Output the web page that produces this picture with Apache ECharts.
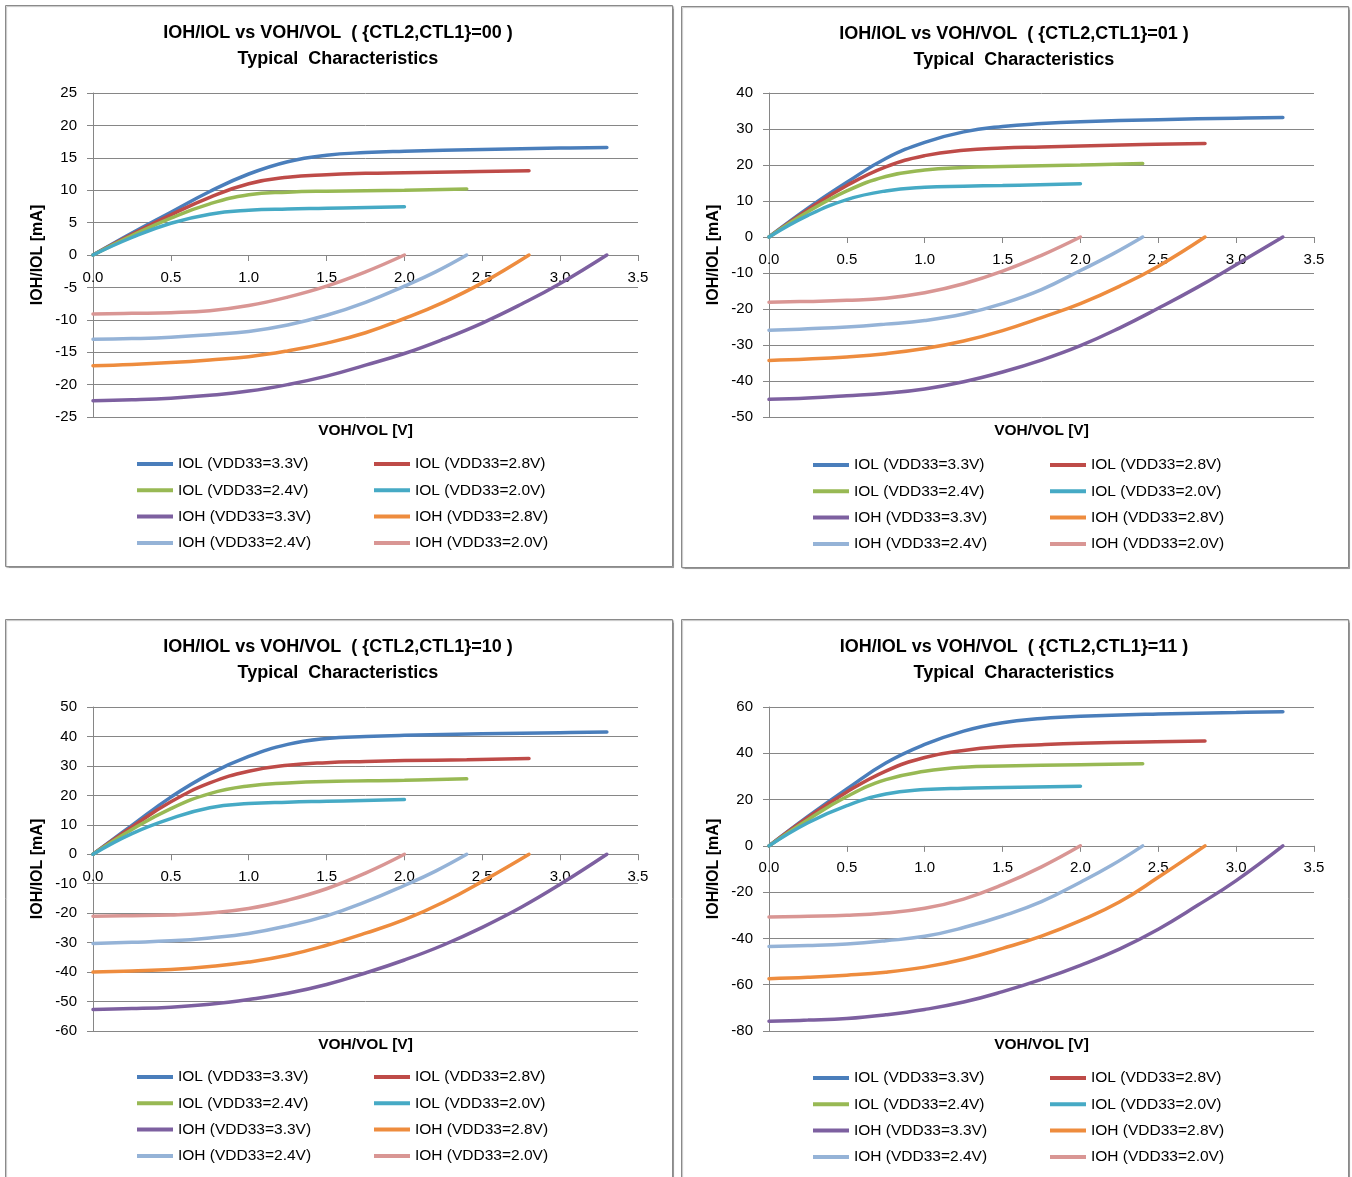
<!DOCTYPE html>
<html><head><meta charset="utf-8">
<script src="https://cdn.jsdelivr.net/npm/echarts@6/dist/echarts.min.js"></script>
<style>html,body{margin:0;padding:0;background:#fff}#c{width:1352px;height:1177px}</style>
</head><body><div id="c"></div>
<script>
// ---- voltage sample points (V) ----
const X_IOL_33 = [0, 0.25, 0.5, 0.75, 1.0, 1.25, 1.5, 1.75, 2.0, 2.5, 3.0, 3.3];
const X_IOL_28 = [0, 0.25, 0.5, 0.75, 1.0, 1.25, 1.5, 1.75, 2.0, 2.4, 2.8];
const X_IOL_24 = [0, 0.25, 0.5, 0.75, 1.0, 1.25, 1.5, 2.0, 2.4];
const X_IOL_20 = [0, 0.25, 0.5, 0.75, 1.0, 1.25, 1.5, 2.0];
const X_IOH_33 = [0, 0.25, 0.5, 0.75, 1.0, 1.25, 1.5, 1.75, 2.0, 2.25, 2.5, 2.75, 3.0, 3.3];
const X_IOH_28 = [0, 0.25, 0.5, 0.75, 1.0, 1.25, 1.5, 1.75, 2.0, 2.25, 2.5, 2.8];
const X_IOH_24 = [0, 0.25, 0.5, 0.75, 1.0, 1.25, 1.5, 1.75, 2.0, 2.2, 2.4];
const X_IOH_20 = [0, 0.25, 0.5, 0.75, 1.0, 1.25, 1.5, 1.75, 2.0];

// ---- {CTL2,CTL1}=00 currents (mA) ----
const P00_IOL_33 = [0, 3.4, 6.6, 9.8, 12.5, 14.4, 15.4, 15.8, 16.0, 16.3, 16.5, 16.6];
const P00_IOL_28 = [0, 3.2, 6.2, 8.9, 11.0, 12.0, 12.4, 12.6, 12.7, 12.85, 13.0];
const P00_IOL_24 = [0, 3.0, 5.7, 7.9, 9.3, 9.7, 9.85, 10.0, 10.2];
const P00_IOL_20 = [0, 2.7, 4.9, 6.3, 6.9, 7.1, 7.2, 7.45];
const P00_IOH_33 = [-22.5, -22.35, -22.1, -21.65, -21.0, -20.0, -18.7, -17.0, -15.2, -13.0, -10.5, -7.6, -4.4, 0];
const P00_IOH_28 = [-17.1, -16.9, -16.6, -16.2, -15.7, -14.8, -13.6, -12.0, -9.8, -7.3, -4.3, 0];
const P00_IOH_24 = [-13.0, -12.9, -12.7, -12.3, -11.8, -10.8, -9.3, -7.3, -4.8, -2.6, 0];
const P00_IOH_20 = [-9.1, -9.0, -8.9, -8.6, -7.8, -6.5, -4.8, -2.6, 0];

// ---- {CTL2,CTL1}=01 ----
const P01_IOL_33 = [0, 8.0, 15.2, 21.8, 26.3, 29.2, 30.7, 31.5, 32.0, 32.6, 33.0, 33.2];
const P01_IOL_28 = [0, 7.6, 14.3, 19.5, 22.6, 24.1, 24.7, 25.0, 25.3, 25.7, 26.0];
const P01_IOL_24 = [0, 7.0, 12.8, 16.8, 18.6, 19.3, 19.6, 20.0, 20.4];
const P01_IOL_20 = [0, 6.0, 10.4, 12.8, 13.8, 14.1, 14.3, 14.8];
const P01_IOH_33 = [-45.1, -44.7, -44.1, -43.4, -42.2, -40.2, -37.5, -34.2, -30.2, -25.3, -19.8, -14.0, -7.7, 0];
const P01_IOH_28 = [-34.3, -33.9, -33.3, -32.4, -31.0, -28.9, -26.0, -22.4, -18.5, -13.7, -8.1, 0];
const P01_IOH_24 = [-25.9, -25.5, -25.0, -24.2, -23.2, -21.4, -18.5, -14.6, -9.3, -4.9, 0];
const P01_IOH_20 = [-18.1, -17.9, -17.6, -17.0, -15.5, -13.0, -9.5, -5.1, 0];

// ---- {CTL2,CTL1}=10 ----
const P10_IOL_33 = [0, 9.8, 19.4, 27.3, 33.2, 37.3, 39.3, 40.0, 40.4, 40.9, 41.3, 41.5];
const P10_IOL_28 = [0, 9.3, 17.8, 24.2, 28.2, 30.2, 31.1, 31.5, 31.8, 32.1, 32.5];
const P10_IOL_24 = [0, 8.4, 15.5, 20.6, 23.2, 24.2, 24.7, 25.1, 25.6];
const P10_IOL_20 = [0, 7.0, 12.1, 15.8, 17.2, 17.7, 18.0, 18.6];
const P10_IOH_33 = [-52.7, -52.4, -51.9, -50.9, -49.3, -47.2, -44.2, -40.3, -35.9, -30.8, -24.8, -18.0, -10.2, 0];
const P10_IOH_28 = [-40.0, -39.6, -39.1, -38.1, -36.6, -34.3, -30.9, -26.8, -22.2, -16.3, -9.2, 0];
const P10_IOH_24 = [-30.3, -29.9, -29.4, -28.4, -26.9, -24.3, -20.9, -16.2, -10.6, -5.7, 0];
const P10_IOH_20 = [-21.0, -20.85, -20.6, -19.9, -18.4, -15.6, -11.7, -6.4, 0];

// ---- {CTL2,CTL1}=11 ----
const P11_IOL_33 = [0, 12.7, 24.6, 35.8, 43.8, 49.6, 53.2, 55.0, 56.0, 57.0, 57.6, 58.0];
const P11_IOL_28 = [0, 12.3, 23.3, 32.3, 38.2, 41.2, 42.9, 43.7, 44.3, 44.9, 45.3];
const P11_IOL_24 = [0, 11.3, 21.3, 28.6, 32.2, 34.0, 34.5, 35.1, 35.5];
const P11_IOL_20 = [0, 10.0, 17.4, 22.4, 24.3, 24.9, 25.2, 25.8];
const P11_IOH_33 = [-75.8, -75.3, -74.6, -73.0, -70.7, -67.5, -63.0, -57.7, -51.6, -44.6, -36.0, -25.8, -15.0, 0];
const P11_IOH_28 = [-57.4, -56.8, -55.9, -54.6, -52.4, -49.0, -44.3, -39.0, -32.3, -24.3, -13.6, 0];
const P11_IOH_24 = [-43.5, -43.1, -42.4, -41.0, -39.1, -35.3, -30.3, -24.1, -15.7, -8.4, 0];
const P11_IOH_20 = [-30.7, -30.4, -30.0, -29.0, -27.0, -23.0, -16.8, -9.1, 0];

// ---- names, ticks ----
const SERIES_NAMES = ['IOL (VDD33=3.3V)', 'IOL (VDD33=2.8V)', 'IOL (VDD33=2.4V)', 'IOL (VDD33=2.0V)',
                      'IOH (VDD33=3.3V)', 'IOH (VDD33=2.8V)', 'IOH (VDD33=2.4V)', 'IOH (VDD33=2.0V)'];
const SERIES_X = [X_IOL_33, X_IOL_28, X_IOL_24, X_IOL_20, X_IOH_33, X_IOH_28, X_IOH_24, X_IOH_20];
const PANEL_CODES = ['00', '01', '10', '11'];
const PANEL_Y = [
  [P00_IOL_33, P00_IOL_28, P00_IOL_24, P00_IOL_20, P00_IOH_33, P00_IOH_28, P00_IOH_24, P00_IOH_20],
  [P01_IOL_33, P01_IOL_28, P01_IOL_24, P01_IOL_20, P01_IOH_33, P01_IOH_28, P01_IOH_24, P01_IOH_20],
  [P10_IOL_33, P10_IOL_28, P10_IOL_24, P10_IOL_20, P10_IOH_33, P10_IOH_28, P10_IOH_24, P10_IOH_20],
  [P11_IOL_33, P11_IOL_28, P11_IOL_24, P11_IOL_20, P11_IOH_33, P11_IOH_28, P11_IOH_24, P11_IOH_20]
];
const Y_MIN = [-25, -50, -60, -80];
const Y_MAX = [25, 40, 50, 60];
const Y_STEP = [5, 10, 10, 20];
const X_MIN = 0, X_MAX = 3.5, X_STEP = 0.5;

// ---- styling / layout ----
const COLORS = ['#4A7EBB', '#BE4B48', '#98B954', '#46AAC5', '#7D60A0', '#EE8C3E', '#95B3D7', '#D99694'];
const FONT = 'Liberation Sans, Arial, sans-serif';
const GRID_COLOR = '#868686';
const LAYOUT = [
  {bx: 5,   by: 5,   gl: 93,  gt: 93,  legTop: 456},
  {bx: 681, by: 6,   gl: 769, gt: 93,  legTop: 457},
  {bx: 5,   by: 619, gl: 93,  gt: 707, legTop: 1069},
  {bx: 681, by: 619, gl: 769, gt: 707, legTop: 1070}
];
const GW = 545, GH = 324, BW = 667, BH = 562;

const option = {
  backgroundColor: '#fff',
  animation: false,
  textStyle: {fontFamily: FONT},
  grid: [], xAxis: [], yAxis: [], series: [], title: [], legend: [], graphic: []
};

LAYOUT.forEach((L, p) => {
  // distance from the bottom of the plot to the zero line, so x labels sit under the zero axis
  const zeroOffset = GH * (0 - Y_MIN[p]) / (Y_MAX[p] - Y_MIN[p]);
  option.graphic.push({
    type: 'rect', silent: true, z: -10,
    shape: {x: L.bx + 0.5, y: L.by + 0.5, width: BW, height: p < 2 ? BH - 1 : 700},
    style: {fill: '#fff', stroke: '#8a8a8a', lineWidth: 1, shadowColor: 'rgba(0,0,0,0.25)', shadowOffsetX: 1, shadowOffsetY: 1, shadowBlur: 1}
  });
  option.grid.push({left: L.gl, top: L.gt, width: GW, height: GH, containLabel: false});
  option.xAxis.push({
    type: 'value', gridIndex: p, min: X_MIN, max: X_MAX, interval: X_STEP,
    axisLine: {show: true, onZero: true, lineStyle: {color: GRID_COLOR, width: 1}},
    axisTick: {show: true, length: 6, lineStyle: {color: GRID_COLOR}},
    axisLabel: {formatter: v => v.toFixed(1), fontSize: 15, color: '#000', margin: 15 - zeroOffset, fontFamily: FONT},
    splitLine: {show: false}
  });
  option.yAxis.push({
    type: 'value', gridIndex: p, min: Y_MIN[p], max: Y_MAX[p], interval: Y_STEP[p],
    axisLine: {show: true, onZero: false, lineStyle: {color: GRID_COLOR, width: 1}},
    axisTick: {show: true, length: 6, lineStyle: {color: GRID_COLOR}},
    axisLabel: {fontSize: 15, color: '#000', margin: 16, fontFamily: FONT},
    splitLine: {show: true, lineStyle: {color: GRID_COLOR, width: 1}},
    name: 'IOH/IOL [mA]', nameLocation: 'middle', nameGap: 47,
    nameTextStyle: {fontWeight: 'bold', fontSize: 16, color: '#000', fontFamily: FONT}
  });
  option.title.push({
    text: 'IOH/IOL vs VOH/VOL  ( {CTL2,CTL1}=' + PANEL_CODES[p] + ' )\nTypical  Characteristics',
    left: L.bx + 333, top: L.by + 15, textAlign: 'center', padding: 0,
    textStyle: {fontSize: 18, fontWeight: 'bold', color: '#000', lineHeight: 26, fontFamily: FONT}
  });
  option.title.push({
    text: 'VOH/VOL [V]', left: L.gl + GW / 2, top: L.gt + GH + 6, textAlign: 'center', padding: 0,
    textStyle: {fontSize: 15.5, fontWeight: 'bold', color: '#000', fontFamily: FONT}
  });
  SERIES_NAMES.forEach((name, s) => {
    option.series.push({
      type: 'line', name: name, xAxisIndex: p, yAxisIndex: p,
      data: SERIES_X[s].map((x, i) => [x, PANEL_Y[p][s][i]]),
      smooth: 0.45, showSymbol: false, symbol: 'none',
      lineStyle: {color: COLORS[s], width: 3.5, cap: 'round'},
      itemStyle: {color: COLORS[s]}
    });
  });
  const legCommon = {
    orient: 'vertical', top: L.legTop, itemWidth: 36, itemHeight: 4, itemGap: 10.3, icon: 'rect', padding: 0,
    textStyle: {fontSize: 15.5, color: '#000', fontFamily: FONT},
    selectedMode: false
  };
  option.legend.push(Object.assign({}, legCommon, {left: L.bx + 132,
    data: [SERIES_NAMES[0], SERIES_NAMES[2], SERIES_NAMES[4], SERIES_NAMES[6]]}));
  option.legend.push(Object.assign({}, legCommon, {left: L.bx + 369,
    data: [SERIES_NAMES[1], SERIES_NAMES[3], SERIES_NAMES[5], SERIES_NAMES[7]]}));
});

const chart = echarts.init(document.getElementById('c'), null, {renderer: 'canvas'});
chart.setOption(option);
</script>
</body></html>
